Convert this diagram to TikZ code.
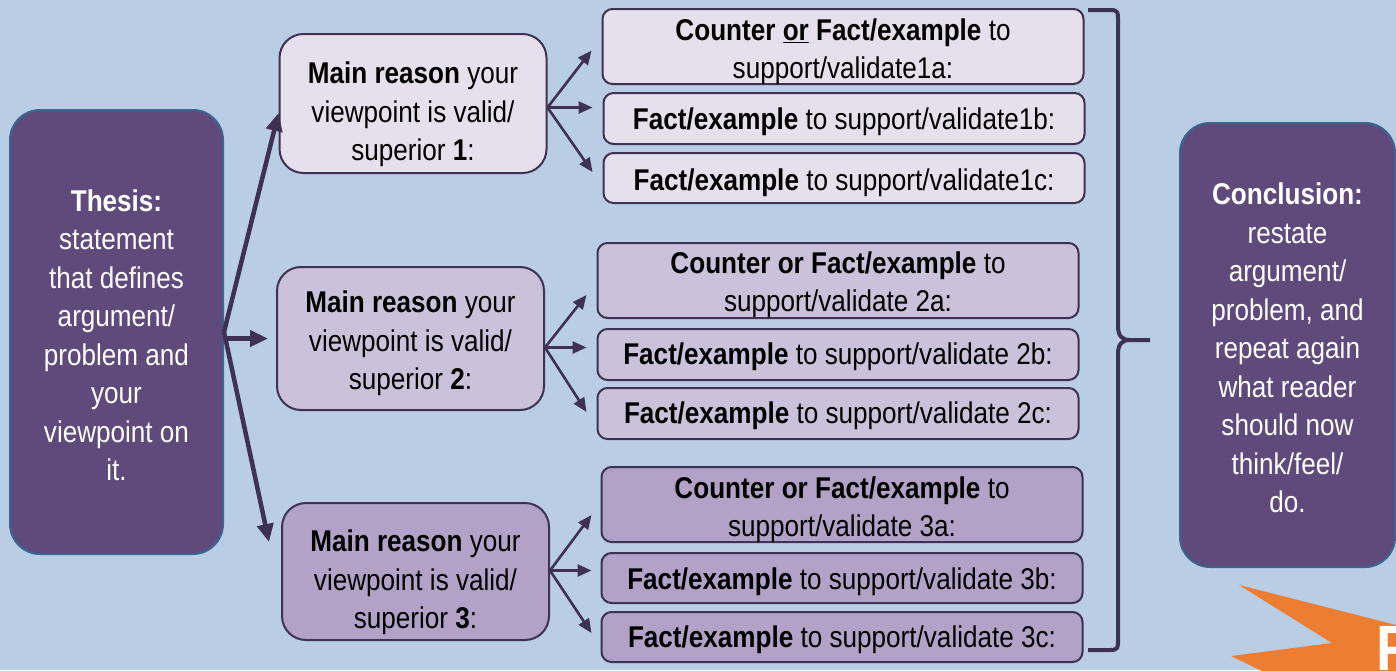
\documentclass[tikz,border=0pt]{standalone}
\usepackage{fontspec}
\setmainfont{Liberation Sans}[FakeStretch=0.87]
\usetikzlibrary{arrows.meta,calc}
\definecolor{bg}{HTML}{B9CDE5}
\definecolor{darkp}{HTML}{604A7B}
\definecolor{edgeb}{HTML}{3A6590}
\definecolor{linep}{HTML}{3F3151}
\definecolor{lv1}{HTML}{E6E0EC}
\definecolor{lv2}{HTML}{CCC1DA}
\definecolor{lv3}{HTML}{B3A2C7}
\definecolor{orng}{HTML}{ED7D31}
\tikzset{
  txt/.style={font=\fontsize{30}{38.5}\selectfont, align=center, inner sep=0pt},
  bigbox/.style={draw=edgeb, line width=2pt, fill=darkp, rounded corners=30pt, minimum width=213pt, minimum height=444pt, inner sep=0pt},
  reasonbox/.style={draw=linep, line width=2pt, rounded corners=24pt, minimum width=267pt, minimum height=139pt, inner sep=0pt},
  factbox/.style={draw=linep, line width=2pt, rounded corners=10pt, minimum width=481pt, inner sep=0pt},
  thickarrow/.style={draw=linep, line width=4.5pt, -{Triangle[length=18pt,width=16pt]}},
  thinarrow/.style={draw=linep, line width=2.6pt, -{Triangle[length=14pt,width=12pt]}}
}
\begin{document}
\begin{tikzpicture}[x=1pt,y=-1pt]
\useasboundingbox (0,0) rectangle (1396,670);
\clip (0,0) rectangle (1396,670);
\fill[bg] (0,0) rectangle (1396,670);

% orange shape
\fill[orng] (1239,585) -- (1400,626) -- (1400,675) -- (1270,675) -- (1231,656) -- (1332,643) -- cycle;
\node[anchor=north west, inner sep=0pt, text=white, font=\fontsize{64}{64}\selectfont\bfseries] (fword) at (1376,626) {F};

% side boxes
\node[bigbox] (thesis) at (116.5,332) {};
\node[txt, text=white] (thesist) at ($(thesis)+(0,3)$) {\textbf{Thesis:}\\statement\\that defines\\argument/\\problem and\\your\\viewpoint on\\it.};
\node[bigbox, minimum width=215pt] (concl) at (1287.5,345) {};
\node[txt, text=white] (conclt) at ($(concl)+(0,3)$) {\textbf{Conclusion:}\\restate\\argument/\\problem, and\\repeat again\\what reader\\should now\\think/feel/\\do.};

% reason boxes
\node[reasonbox, fill=lv1] (m1) at (413,103.5) {};
\node[txt] (m1t) at ($(m1)+(0,11)$) {\textbf{Main reason} your\\viewpoint is valid/\\superior \textbf{1}:};
\node[reasonbox, fill=lv2, minimum height=143pt] (m2) at (410.5,338.5) {};
\node[txt] (m2t) at ($(m2)+(0,5)$) {\textbf{Main reason} your\\viewpoint is valid/\\superior \textbf{2}:};
\node[reasonbox, fill=lv3, minimum height=137pt] (m3) at (415.5,571.5) {};
\node[txt] (m3t) at ($(m3)+(0,11)$) {\textbf{Main reason} your\\viewpoint is valid/\\superior \textbf{3}:};

% fact boxes
\node[factbox, fill=lv1, minimum height=75pt] (r1a) at (843,46.5) {};
\node[txt] (r1at) at ($(r1a)+(0,5)$) {\textbf{Counter \underline{or} Fact/example} to\\support/validate1a:};
\node[factbox, fill=lv1, minimum height=51pt] (r1b) at (844,118.5) {};
\node[txt] (r1bt) at ($(r1b)+(0,3)$) {\textbf{Fact/example} to support/validate1b:};
\node[factbox, fill=lv1, minimum height=50pt] (r1c) at (844,178) {};
\node[txt] (r1ct) at ($(r1c)+(0,5)$) {\textbf{Fact/example} to support/validate1c:};

\node[factbox, fill=lv2, minimum height=75pt] (r2a) at (838,280.5) {};
\node[txt] (r2at) at ($(r2a)+(0,4)$) {\textbf{Counter or Fact/example} to\\support/validate 2a:};
\node[factbox, fill=lv2, minimum height=51pt] (r2b) at (838,354.5) {};
\node[txt] (r2bt) at ($(r2b)+(0,2)$) {\textbf{Fact/example} to support/validate 2b:};
\node[factbox, fill=lv2, minimum height=51pt] (r2c) at (838,413.5) {};
\node[txt] (r2ct) at ($(r2c)+(0,2)$) {\textbf{Fact/example} to support/validate 2c:};

\node[factbox, fill=lv3, minimum height=75pt] (r3a) at (842,504.5) {};
\node[txt] (r3at) at ($(r3a)+(0,5)$) {\textbf{Counter or Fact/example} to\\support/validate 3a:};
\node[factbox, fill=lv3, minimum height=50pt] (r3b) at (842,578) {};
\node[txt] (r3bt) at ($(r3b)+(0,4)$) {\textbf{Fact/example} to support/validate 3b:};
\node[factbox, fill=lv3, minimum height=50pt] (r3c) at (842,637) {};
\node[txt] (r3ct) at ($(r3c)+(0,3)$) {\textbf{Fact/example} to support/validate 3c:};

% thesis fan
\coordinate (tf) at (thesis.east);
\draw[thickarrow] (tf) -- ($(m1.west)+(0,9.5)$);
\draw[thickarrow] (thesis.east |- m2.west) -- ($(m2.west)+(-8,0)$);
\draw[thickarrow] (tf) -- ($(m3.west)+(-12,-29.5)$);

% group fans
\coordinate (f1) at ($(m1.east)+(0,4)$);
\draw[thinarrow] (f1) -- ($(r1a.west)+(-10,4)$);
\draw[thinarrow] (f1) -- ($(f1 -| r1b.west)+(-10,0)$);
\draw[thinarrow] (f1) -- ($(r1c.west)+(-10,-6)$);

\coordinate (f2) at ($(m2.east)+(0,9)$);
\draw[thinarrow] (f2) -- ($(r2a.west)+(-10,14.5)$);
\draw[thinarrow] (f2) -- ($(f2 -| r2b.west)+(-10,0)$);
\draw[thinarrow] (f2) -- ($(r2c.west)+(-10,-1.5)$);

\coordinate (f3) at ($(m3.east)+(0,-1)$);
\draw[thinarrow] (f3) -- ($(r3a.west)+(-9,10.5)$);
\draw[thinarrow] (f3) -- ($(f3 -| r3b.west)+(-9,0)$);
\draw[thinarrow] (f3) -- ($(r3c.west)+(-9,-4)$);

% brace
\draw[linep, line width=4pt, line join=round]
  (1088,10) -- (1110,10) .. controls (1118,10) and (1118,12) .. (1118,20)
  -- (1118,326) .. controls (1118,336) and (1122,340) .. (1130,340) -- (1150,340)
  (1130,340) .. controls (1122,340) and (1118,344) .. (1118,354)
  -- (1118,640) .. controls (1118,648) and (1118,650) .. (1110,650) -- (1088,650);
\end{tikzpicture}
\end{document}
